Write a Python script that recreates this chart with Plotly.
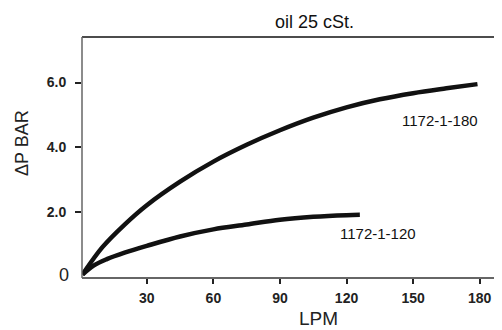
import plotly.graph_objects as go

# Data
flow_180 = [1, 10, 20, 30, 45, 60, 75, 90, 105, 120, 135, 150, 165, 179]
dp_180 = [0.05, 0.9, 1.6, 2.2, 2.93, 3.55, 4.07, 4.52, 4.91, 5.23, 5.48, 5.67, 5.82, 5.95]

flow_120 = [1, 6, 12, 20, 30, 45, 60, 75, 90, 105, 120, 126]
dp_120 = [0.05, 0.33, 0.53, 0.73, 0.94, 1.23, 1.45, 1.60, 1.75, 1.84, 1.89, 1.90]

x_ticks = [30, 60, 90, 120, 150, 180]
y_ticks = [2, 4, 6]
y_tick_text = ["2.0", "4.0", "6.0"]

series_names = ["1172-1-180", "1172-1-120"]

# page body has an 8px default margin, so the figure is drawn 8px smaller
W, H = 494, 322
L, R, T, B = 74, 5, 29, 52
PW, PH = W - L - R, H - T - B

fig = go.Figure()
fig.add_trace(go.Scatter(x=flow_180, y=dp_180, mode="lines", name=series_names[0],
                         line=dict(color="#111111", width=4.5, shape="spline", smoothing=1.0)))
fig.add_trace(go.Scatter(x=flow_120, y=dp_120, mode="lines", name=series_names[1],
                         line=dict(color="#111111", width=4.5, shape="spline", smoothing=1.0)))


def px_x(p):  # absolute page pixel -> paper x
    return (p - 8 - L) / PW


def px_y(p):  # absolute page pixel -> paper y
    return 1 - (p - 8 - T) / PH


fig.update_layout(
    width=W, height=H,
    margin=dict(l=L, r=R, t=T, b=B),
    paper_bgcolor="white", plot_bgcolor="white",
    showlegend=False,
    font=dict(family="Liberation Sans, Arial, sans-serif", color="#111111"),
    xaxis=dict(range=[0.8, 187.8], tickvals=x_ticks, ticks="outside", ticklen=5,
               tickcolor="#222", tickwidth=1.5, showgrid=False, zeroline=False,
               showline=False, ticklabelstandoff=2,
               tickfont=dict(size=14, weight="bold", color="#222")),
    yaxis=dict(range=[-0.056, 7.41], tickvals=y_ticks, ticktext=y_tick_text,
               ticks="outside", ticklen=6, tickcolor="#222", tickwidth=1.5,
               showgrid=False, zeroline=False, showline=False, ticklabelstandoff=6,
               tickfont=dict(size=14, weight="bold", color="#222")),
    shapes=[
        dict(type="line", xref="paper", yref="paper", x0=0, x1=1, y0=1, y1=1,
             line=dict(color="#111", width=1.5)),
        dict(type="line", xref="paper", yref="paper", x0=0, x1=1, y0=0, y1=0,
             line=dict(color="#333", width=1.5)),
        dict(type="line", xref="paper", yref="paper", x0=0, x1=0, y0=0, y1=1,
             line=dict(color="#666", width=1.5)),
        dict(type="line", xref="paper", yref="paper", x0=1, x1=1, y0=0, y1=1,
             line=dict(color="#111", width=2.5)),
    ],
    annotations=[
        dict(text="oil 25 cSt.", xref="paper", yref="paper", x=px_x(314), y=px_y(22),
             showarrow=False, xanchor="center", yanchor="middle",
             font=dict(size=18, color="#111")),
        dict(text="LPM", xref="paper", yref="paper", x=px_x(318), y=px_y(318),
             showarrow=False, xanchor="center", yanchor="middle",
             font=dict(size=19, color="#222")),
        dict(text="ΔP BAR", xref="paper", yref="paper", x=px_x(22), y=px_y(143),
             showarrow=False, xanchor="center", yanchor="middle",
             textangle=-90, font=dict(size=18, color="#222")),
        dict(text="0", xref="paper", yref="paper", x=px_x(64), y=px_y(275),
             showarrow=False, xanchor="center", yanchor="middle",
             font=dict(size=18, color="#222")),
        dict(text=series_names[0], xref="paper", yref="paper", x=px_x(440), y=px_y(120),
             showarrow=False, xanchor="center", yanchor="middle",
             font=dict(size=15, color="#111")),
        dict(text=series_names[1], xref="paper", yref="paper", x=px_x(378), y=px_y(233),
             showarrow=False, xanchor="center", yanchor="middle",
             font=dict(size=15, color="#111")),
    ],
)

fig.write_html("out.html")
